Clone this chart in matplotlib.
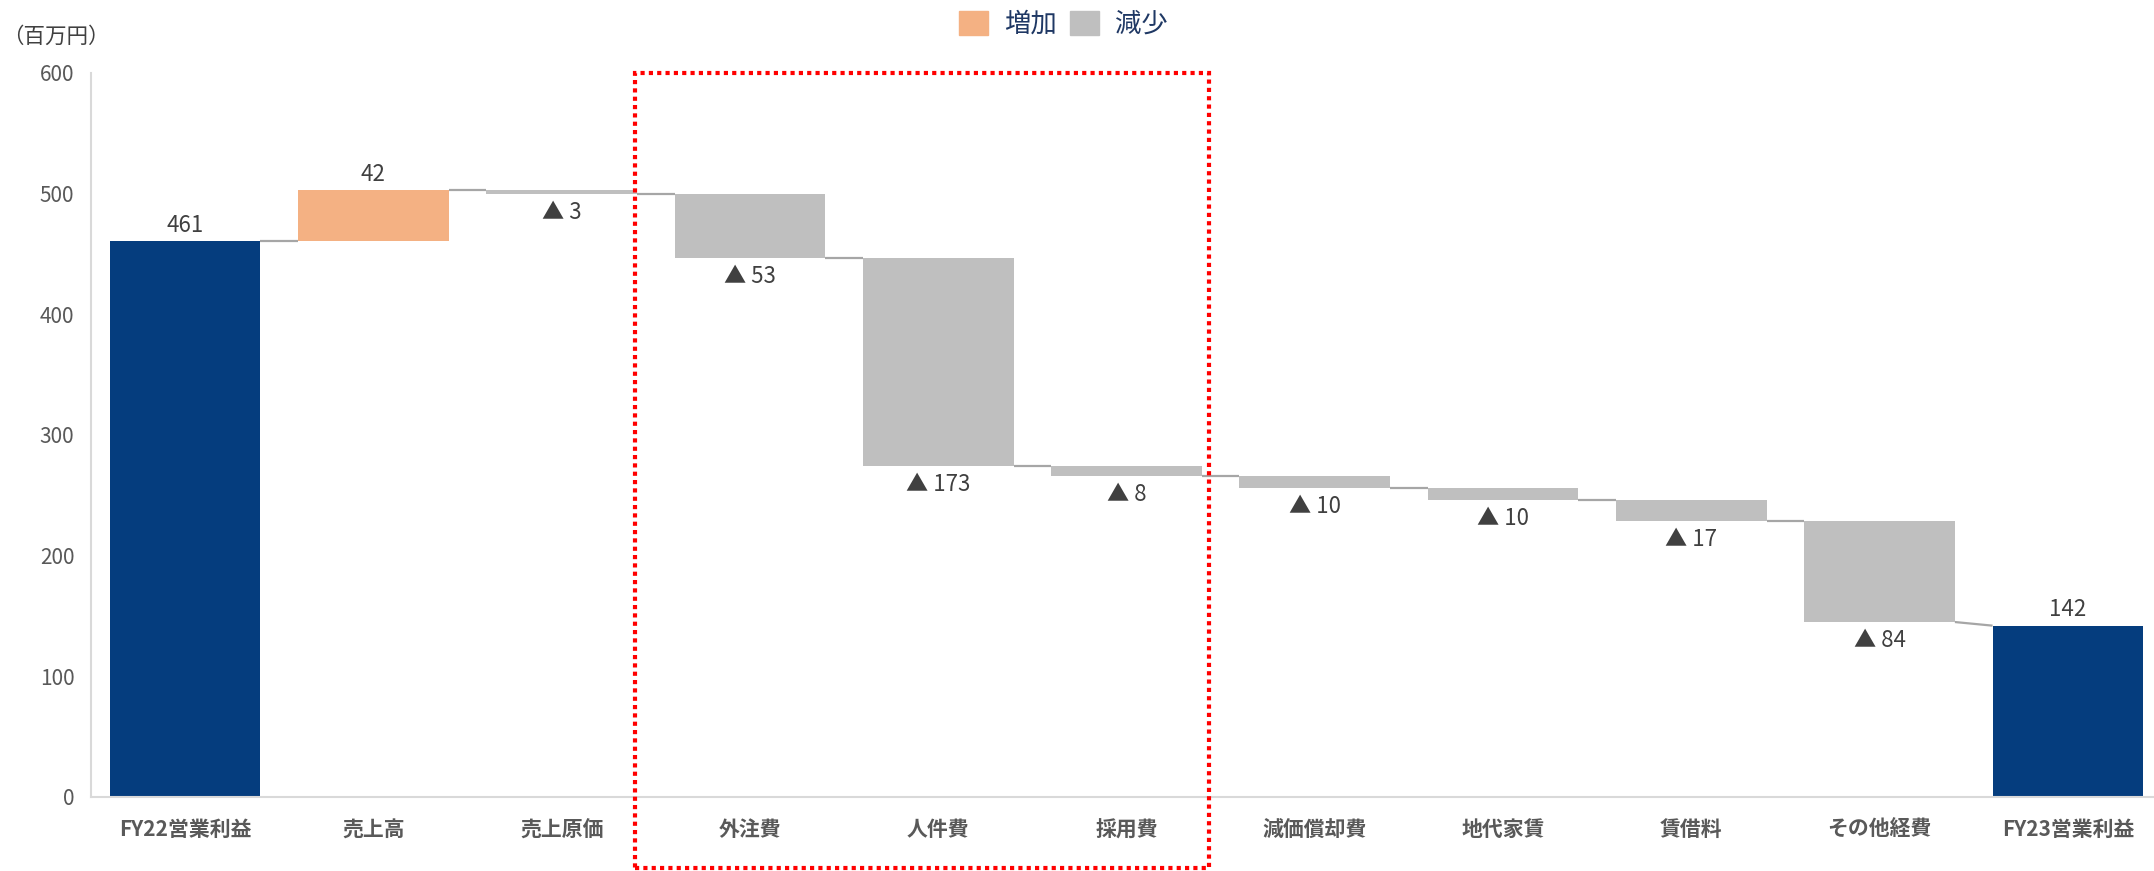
import numpy as np
import matplotlib
matplotlib.use("Agg")
import matplotlib.pyplot as plt
from matplotlib.patches import Patch, Rectangle
import matplotlib.transforms as mtransforms

plt.rcParams['font.family'] = ['Noto Sans CJK JP', 'DejaVu Sans']

# data
categories = ['FY22営業利益', '売上高', '売上原価', '外注費', '人件費', '採用費',
              '減価償却費', '地代家賃', '賃借料', 'その他経費', 'FY23営業利益']
start_total = 461
end_total = 142
changes = [42, -3, -53, -173, -8, -10, -10, -17, -84]
highlight = (3, 5)  # 外注費 .. 採用費 framed in red

navy = '#053D7E'
orange = '#F4B183'
grey = '#BFBFBF'
conn = '#A6A6A6'
txt = '#404040'

fig = plt.figure(figsize=(21.54, 8.71), dpi=100)
ax = fig.add_axes([0.04225, 0.08496, 0.96147, 0.83123])

n = len(categories)
x = np.arange(n)
w = 0.8

# running level after each step
levels = [start_total]
for c in changes:
    levels.append(levels[-1] + c)

ax.bar(x[0], start_total, w, color=navy, zorder=2)
ax.bar(x[-1], end_total, w, color=navy, zorder=2)
for i, c in enumerate(changes, start=1):
    lo = min(levels[i - 1], levels[i])
    ax.bar(x[i], abs(c), w, bottom=lo, color=orange if c > 0 else grey, zorder=2)

# connector lines between bars (last one runs to the FY23 total)
for i in range(n - 1):
    y1 = levels[i] if i + 1 < n - 1 else end_total
    ax.plot([x[i] + w / 2, x[i + 1] - w / 2], [levels[i], y1],
            color=conn, lw=1.6, zorder=1, solid_capstyle='butt')

# value labels
for xi, v in ((x[0], start_total), (x[-1], end_total)):
    ax.annotate(f'{v}', (xi, v), xytext=(0, 3), textcoords='offset points',
                ha='center', va='bottom', fontsize=16, color=txt)
for i, c in enumerate(changes, start=1):
    hi = max(levels[i - 1], levels[i])
    lo = min(levels[i - 1], levels[i])
    if c > 0:
        ax.annotate(f'{c}', (x[i], hi), xytext=(0, 3), textcoords='offset points',
                    ha='center', va='bottom', fontsize=16, color=txt)
    else:
        ax.annotate(f'▲ {abs(c)}', (x[i], lo), xytext=(0, -5), textcoords='offset points',
                    ha='center', va='top', fontsize=16, color=txt)

ax.set_xlim(-0.5, n - 0.5)
ax.set_ylim(0, 600)
ax.set_yticks(range(0, 601, 100))
ax.set_xticks(x)
ax.set_xticklabels(categories, fontsize=15, fontweight='bold', color='#595959')
ax.tick_params(axis='y', length=0, pad=12, labelsize=15, labelcolor='#595959')
ax.tick_params(axis='x', length=0, pad=16)
for s in ('top', 'right'):
    ax.spines[s].set_visible(False)
ax.spines['left'].set_color('#D9D9D9')
ax.spines['bottom'].set_color('#D9D9D9')
ax.spines['left'].set_linewidth(1.5)
ax.spines['bottom'].set_linewidth(1.5)

# red dotted frame around the highlighted categories
trans = mtransforms.blended_transform_factory(ax.transData, fig.transFigure)
x_left = highlight[0] - 0.61
x_right = highlight[1] + 0.44
rect = Rectangle((x_left, 0.004), x_right - x_left, 0.912, transform=trans,
                 fill=False, edgecolor='#FF0000', lw=3, linestyle=(0, (1, 1)),
                 clip_on=False, zorder=5)
ax.add_patch(rect)

fig.text(0.001, 0.958, '（百万円）', fontsize=15.5, color='#404040', ha='left', va='center')

handles = [Patch(color=orange, label='増加'), Patch(color=grey, label='減少')]
fig.legend(handles=handles, loc='center', bbox_to_anchor=(0.4937, 0.972), ncol=2,
           frameon=False, fontsize=19, handlelength=1.1, handleheight=1.0,
           handletextpad=0.6, columnspacing=0.5, labelcolor='#1F3864')

fig.savefig('out.png', dpi=100)
